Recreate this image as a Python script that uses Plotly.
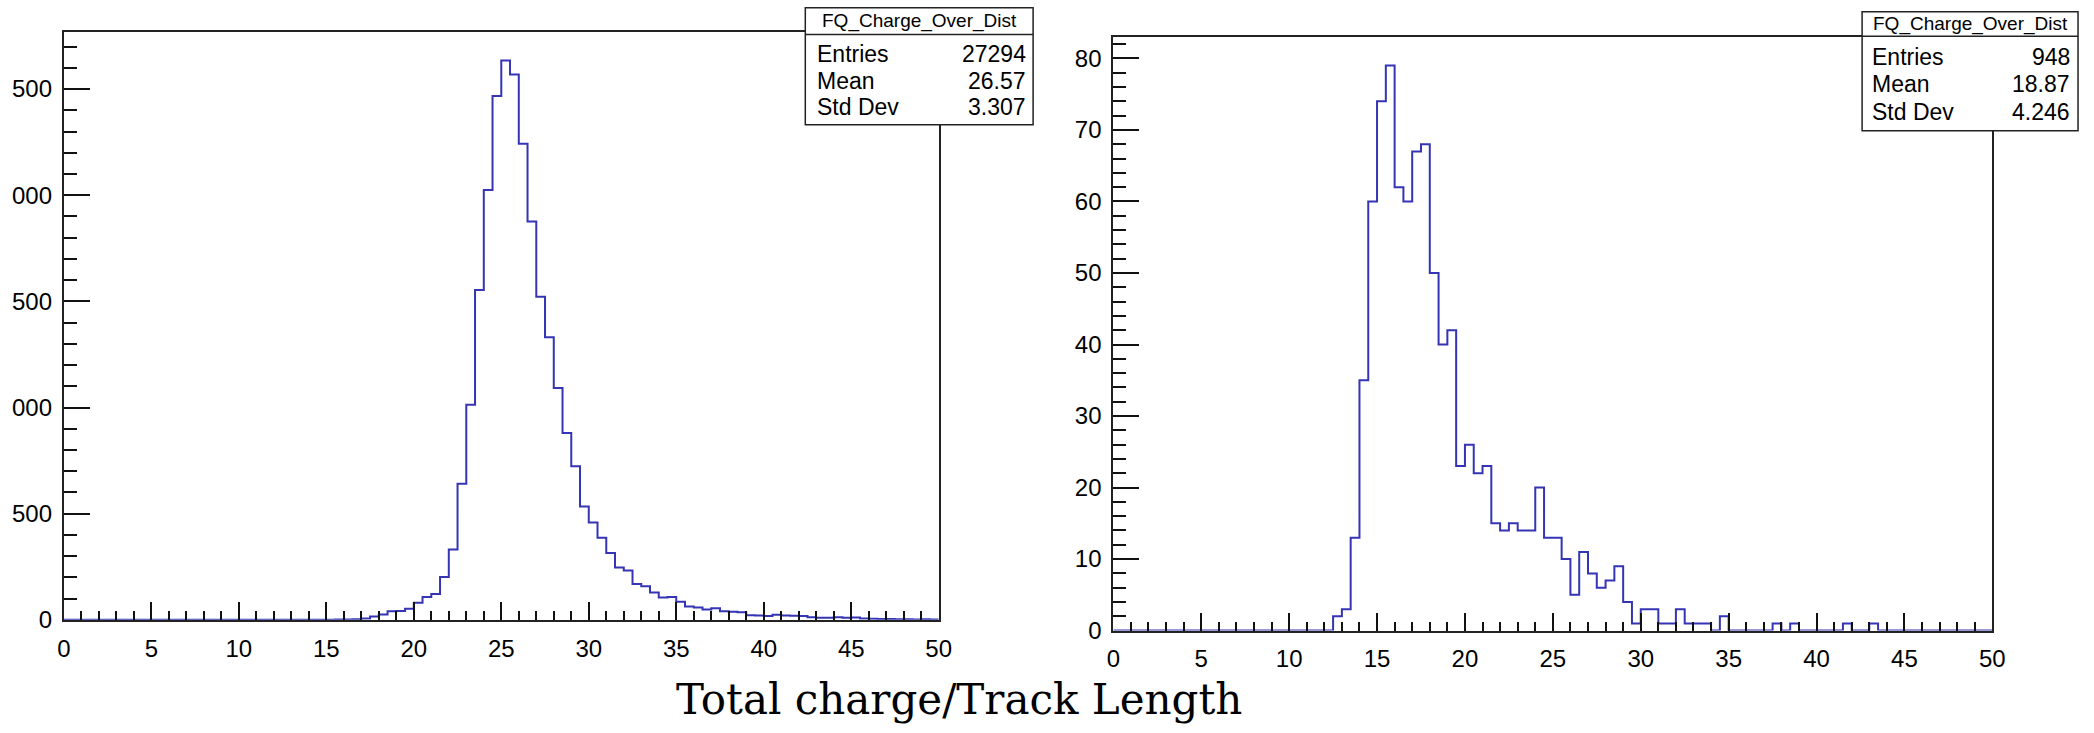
import numpy as np
import plotly.graph_objects as go

# ---------------------------------------------------------------- data
# 100 bins of width 0.5 on [0, 50]
bin_lo, bin_hi, n_bins = 0.0, 50.0, 100

# left histogram: bin contents (bins 0..99)
counts_left = (
    [0] * 31
    + [1, 2, 3, 6, 15, 25, 40, 42, 52, 80, 108, 122, 202, 331, 641,          # bins 31-45
       1013, 1554, 2024, 2467, 2635, 2569, 2242, 1876, 1522, 1331,           # bins 46-55
       1092, 880, 723, 534, 458, 386, 315, 246, 232, 169,                    # bins 56-65
       158, 129, 105, 108, 85, 63, 58, 48, 55,                               # bins 66-74
       40, 38, 36, 22, 20, 18, 24, 20, 19, 18,                               # bins 75-84
       12, 10, 10, 12, 10, 11, 6, 5, 4, 4, 3, 3, 2, 3, 2]                    # bins 85-99
)

# right histogram: bin contents (bins 0..99)
counts_right = [0] * 100
right_nonzero = {
    25: 2, 26: 3, 27: 13, 28: 35, 29: 60, 30: 74, 31: 79, 32: 62, 33: 60,
    34: 67, 35: 68, 36: 50, 37: 40, 38: 42, 39: 23, 40: 26, 41: 22, 42: 23,
    43: 15, 44: 14, 45: 15, 46: 14, 47: 14, 48: 20, 49: 13, 50: 13, 51: 10,
    52: 5, 53: 11, 54: 8, 55: 6, 56: 7, 57: 9, 58: 4, 59: 1, 60: 3, 61: 3,
    62: 1, 63: 1, 64: 3, 65: 1, 66: 1, 67: 1, 69: 2, 75: 1, 77: 1, 83: 1,
    86: 1,
}
for b, c in right_nonzero.items():
    counts_right[b] = c

# statistics boxes
stats_title = "FQ_Charge_Over_Dist"
stats_names = ["Entries", "Mean", "Std Dev"]
stats_left = ["27294", "26.57", "3.307"]
stats_right = ["948", "18.87", "4.246"]

# axis ticks
x_ticks = [0, 5, 10, 15, 20, 25, 30, 35, 40, 45, 50]
left_y_ticks = [0, 500, 1000, 1500, 2000, 2500]
left_y_ticktext = ["0", "500", "000", "500", "000", "500"]
right_y_ticks = [0, 10, 20, 30, 40, 50, 60, 70, 80]

x_title = "Total charge/Track Length"

# ---------------------------------------------------------------- layout helpers
W, H = 2094, 733


def fx(px):
    return px / W


def fy(py):
    return 1 - py / H


LINE = "#3434B4"
FONT = "Liberation Sans, Arial, sans-serif"

edges = np.linspace(bin_lo, bin_hi, n_bins + 1)


def step_xy(counts):
    # outline of a histogram: one point per left edge plus the closing edge
    xs = list(edges)
    ys = list(counts) + [counts[-1]]
    return xs, ys


fig = go.Figure()

xl, yl = step_xy(counts_left)
fig.add_trace(go.Scatter(x=xl, y=yl, mode="lines", line=dict(color=LINE, width=2, shape="hv"),
                         xaxis="x", yaxis="y", showlegend=False, hoverinfo="skip"))
xr, yr = step_xy(counts_right)
fig.add_trace(go.Scatter(x=xr, y=yr, mode="lines", line=dict(color=LINE, width=2, shape="hv"),
                         xaxis="x2", yaxis="y2", showlegend=False, hoverinfo="skip"))

# pad frames in pixels
L = dict(x0=57.4, x1=940.7, yt=33, yb=631)
R = dict(x0=1117, x1=2004.5, yt=38, yb=642)


def xaxis_cfg(frame, anchor):
    return dict(
        domain=[fx(frame["x0"]), fx(frame["x1"])], anchor=anchor,
        range=[bin_lo, bin_hi], tickmode="array", tickvals=x_ticks,
        ticks="inside", ticklen=18, tickwidth=1.5, tickcolor="#111",
        minor=dict(ticks="inside", dtick=1, ticklen=9, tickwidth=1.5, tickcolor="#111"),
        showline=True, linecolor="#222", linewidth=2, mirror=True,
        showgrid=False, zeroline=False, ticklabelstandoff=6,
        tickfont=dict(family=FONT, size=24, color="#000"),
    )


def yaxis_cfg(frame, anchor, top, tickvals, ticktext, minor_dtick):
    return dict(
        domain=[fy(frame["yb"]), fy(frame["yt"])], anchor=anchor,
        range=[0, top], tickmode="array", tickvals=tickvals, ticktext=ticktext,
        ticks="inside", ticklen=26, tickwidth=1.5, tickcolor="#111",
        minor=dict(ticks="inside", dtick=minor_dtick, ticklen=13, tickwidth=1.5, tickcolor="#111"),
        showline=True, linecolor="#222", linewidth=2, mirror=True,
        showgrid=False, zeroline=False, ticklabelstandoff=5,
        tickfont=dict(family=FONT, size=24, color="#000"),
    )


fig.update_layout(
    width=W, height=H, margin=dict(l=0, r=0, t=0, b=0),
    paper_bgcolor="white", plot_bgcolor="white",
    xaxis=xaxis_cfg(L, "y"),
    yaxis=yaxis_cfg(L, "x", 1.05 * max(counts_left), left_y_ticks, left_y_ticktext, 100),
    xaxis2=xaxis_cfg(R, "y2"),
    yaxis2=yaxis_cfg(R, "x2", 1.05 * max(counts_right), right_y_ticks,
                     [str(v) for v in right_y_ticks], 2),
)


def stats_box(bx0, bx1, by0, by1, bdiv, rows_y, label_x, value_x, values):
    fig.add_shape(type="rect", xref="paper", yref="paper",
                  x0=fx(bx0), x1=fx(bx1), y0=fy(by1), y1=fy(by0),
                  fillcolor="white", line=dict(color="#222", width=1.5), layer="above")
    fig.add_shape(type="line", xref="paper", yref="paper",
                  x0=fx(bx0), x1=fx(bx1), y0=fy(bdiv), y1=fy(bdiv),
                  line=dict(color="#222", width=1.5), layer="above")
    fig.add_annotation(x=fx((bx0 + bx1) / 2), y=fy((by0 + bdiv) / 2), xref="paper", yref="paper",
                       text=stats_title, showarrow=False, xanchor="center", yanchor="middle",
                       font=dict(family=FONT, size=19, color="#000"))
    for name, val, ry in zip(stats_names, values, rows_y):
        fig.add_annotation(x=fx(label_x), y=fy(ry), xref="paper", yref="paper", text=name,
                           showarrow=False, xanchor="left", yanchor="middle",
                           font=dict(family=FONT, size=23, color="#000"))
        fig.add_annotation(x=fx(value_x), y=fy(ry), xref="paper", yref="paper", text=val,
                           showarrow=False, xanchor="right", yanchor="middle",
                           font=dict(family=FONT, size=23, color="#000"))


stats_box(806, 1036, 8, 127, 35, [55, 82, 109], 816, 1031, stats_left)
stats_box(1873, 2091, 12, 133, 37, [58, 86, 114], 1881, 2085, stats_right)

fig.add_annotation(x=fx(961), y=fy(712), xref="paper", yref="paper", text=x_title,
                   showarrow=False, xanchor="center", yanchor="middle",
                   font=dict(family="DejaVu Serif, serif", size=42, color="#000"))

fig.write_html("out.html")
